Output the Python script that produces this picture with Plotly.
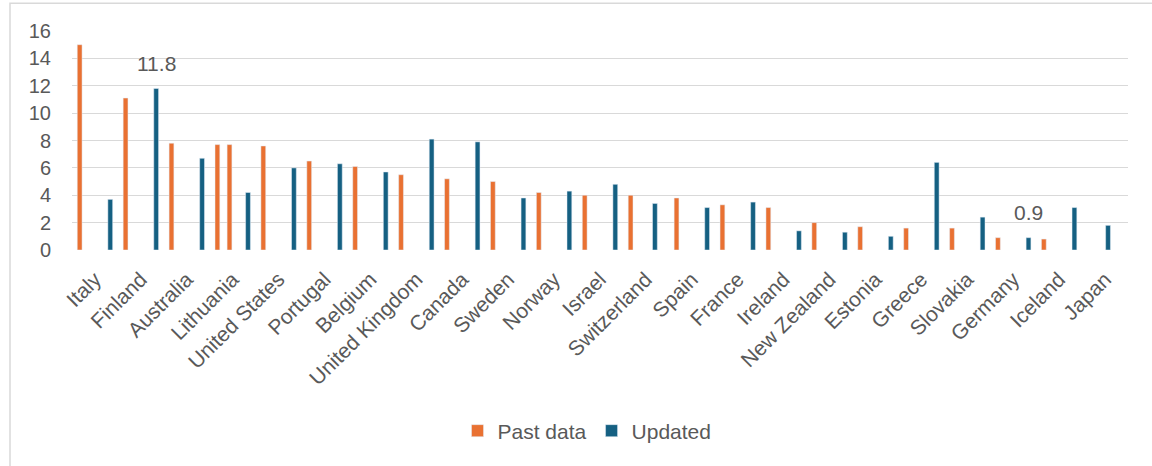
import plotly.graph_objects as go

countries = ["Italy", "Finland", "Australia", "Lithuania", "United States", "Portugal",
             "Belgium", "United Kingdom", "Canada", "Sweden", "Norway", "Israel",
             "Switzerland", "Spain", "France", "Ireland", "New Zealand", "Estonia",
             "Greece", "Slovakia", "Germany", "Iceland", "Japan"]

past_data = [15.0, 11.1, 7.8, 7.7, 7.6, 6.5, 6.1, 5.5, 5.2, 5.0, 4.2, 4.0,
             4.0, 3.8, 3.3, 3.1, 2.0, 1.7, 1.6, 1.6, 0.9, 0.8, None]
past_data_extra = [None, None, None, 7.7, None, None, None, None, None, None, None, None,
                   None, None, None, None, None, None, None, None, None, None, None]
updated = [3.7, 11.8, 6.7, 4.2, 6.0, 6.3, 5.7, 8.1, 7.9, 3.8, 4.3, 4.8,
           None, 3.1, 3.5, 1.4, 1.3, 1.0, 6.4, 2.4, 0.9, 3.1, None]
updated_mid = [None] * 12 + [3.4] + [None] * 10       # Switzerland
updated_center = [None] * 22 + [1.8]                  # Japan

labelled = ["Finland", "Germany"]

ORANGE = "#E97132"
BLUE = "#156082"
TEXT = "#595959"
GRID = "#D9D9D9"
FONT = "Liberation Sans"

# layout geometry (pixels)
L, R, T, B = 72, 24, 31, 216
W, H = 1152, 466
plot_w = W - L - R
plot_h = H - T - B
cat_px = plot_w / len(countries)
bar_px = 4.8


def slot(center_px):
    return dict(offset=(center_px - bar_px / 2) / cat_px, width=bar_px / cat_px)


fig = go.Figure()
fig.add_trace(go.Bar(x=countries, y=past_data, name="Past data", marker_color=ORANGE,
                     legendgroup="past", **slot(-15.3)))
fig.add_trace(go.Bar(x=countries, y=updated, name="Updated", marker_color=BLUE,
                     legendgroup="upd", **slot(15.3)))
fig.add_trace(go.Bar(x=countries, y=past_data_extra, name="Past data", marker_color=ORANGE,
                     legendgroup="past", showlegend=False, **slot(-3.2)))
fig.add_trace(go.Bar(x=countries, y=updated_center, name="Updated", marker_color=BLUE,
                     legendgroup="upd", showlegend=False, **slot(3.0)))
fig.add_trace(go.Bar(x=countries, y=updated_mid, name="Updated", marker_color=BLUE,
                     legendgroup="upd", showlegend=False, **slot(9.0)))

for c in labelled:
    i = countries.index(c)
    fig.add_annotation(x=c, y=updated[i], text=f"{updated[i]:.1f}", showarrow=False,
                       xshift=15.3, yshift=25, yanchor="middle",
                       font=dict(family=FONT, size=21, color=TEXT))

# chart border
fig.add_shape(type="rect", xref="paper", yref="paper",
              x0=(10 - L) / plot_w, x1=(W + 2 - L) / plot_w,
              y0=-(B + 2) / plot_h, y1=1 + (T - 3.3) / plot_h,
              line=dict(color=GRID, width=1.5), fillcolor="rgba(0,0,0,0)", layer="below")

fig.update_layout(
    width=W, height=H,
    margin=dict(l=L, r=R, t=T, b=B, autoexpand=False),
    paper_bgcolor="white", plot_bgcolor="white",
    barmode="overlay",
    font=dict(family=FONT, color=TEXT),
    legend=dict(orientation="h", x=(587 - L) / plot_w, xanchor="center",
                y=-(431 - (H - B)) / plot_h, yanchor="middle",
                font=dict(family=FONT, size=21, color=TEXT),
                itemwidth=30, traceorder="normal"),
    showlegend=True,
)
fig.update_xaxes(type="category", tickangle=-45, showgrid=False, showline=False,
                 ticks="", zeroline=False, automargin=False, ticklabelstandoff=12,
                 tickfont=dict(family=FONT, size=21, color=TEXT))
fig.update_yaxes(range=[0, 16], dtick=2, showgrid=True, gridcolor=GRID, gridwidth=1.3,
                 zeroline=False, showline=False, ticks="", automargin=False,
                 ticklabelstandoff=20,
                 tickfont=dict(family=FONT, size=20, color=TEXT))

fig.write_html("out.html")
